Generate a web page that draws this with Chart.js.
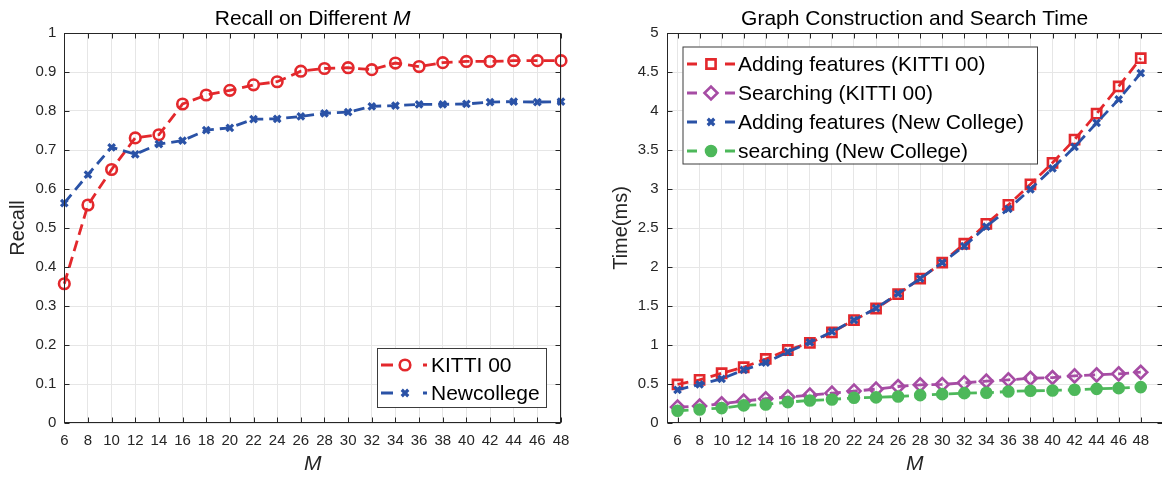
<!DOCTYPE html>
<html lang="en">
<head>
  <meta charset="UTF-8">
  <title>Recall and Time on Different M</title>
  <script src="https://cdn.jsdelivr.net/npm/chart.js"></script>
  <style>
    html, body {
      margin: 0;
      padding: 0;
      background: #fff;
      overflow: hidden;
    }
    #wrap {
      position: relative;
      width: 1162px;
      height: 479px;
      overflow: hidden;
    }
    .box {
      position: absolute;
      top: 0;
      height: 479px;
    }
    #leftBox { left: 0; width: 580px; }
    #rightBox { left: 590px; width: 590px; }
  </style>
</head>
<body>
  <div id="wrap">
    <div class="box" id="leftBox"><canvas id="recallChart" width="580" height="479"></canvas></div>
    <div class="box" id="rightBox"><canvas id="timeChart" width="590" height="479"></canvas></div>
  </div>

  <script>
    // M values (x axis, both charts)
    const mValues = [6, 8, 10, 12, 14, 16, 18, 20, 22, 24, 26, 28, 30, 32, 34, 36, 38, 40, 42, 44, 46, 48];

    // left chart: recall
    const recallKitti = [0.357, 0.559, 0.650, 0.731, 0.739, 0.818, 0.841, 0.853, 0.867, 0.875, 0.902,
                         0.909, 0.911, 0.906, 0.923, 0.914, 0.924, 0.927, 0.927, 0.929, 0.929, 0.929];
    const recallNewcollege = [0.564, 0.637, 0.707, 0.689, 0.715, 0.724, 0.751, 0.757, 0.779, 0.780, 0.786,
                              0.794, 0.797, 0.812, 0.814, 0.817, 0.817, 0.818, 0.823, 0.824, 0.823, 0.824];

    // right chart: time in ms
    const addKitti = [0.494, 0.553, 0.638, 0.715, 0.821, 0.936, 1.026, 1.162, 1.319, 1.468, 1.651,
                      1.851, 2.055, 2.298, 2.553, 2.796, 3.060, 3.336, 3.634, 3.966, 4.315, 4.677];
    const searchKitti = [0.204, 0.217, 0.247, 0.281, 0.311, 0.332, 0.357, 0.383, 0.409, 0.434, 0.468,
                         0.489, 0.494, 0.515, 0.536, 0.553, 0.574, 0.583, 0.604, 0.617, 0.630, 0.651];
    const addNewCollege = [0.426, 0.494, 0.566, 0.681, 0.774, 0.911, 1.034, 1.170, 1.319, 1.472, 1.660,
                           1.851, 2.055, 2.268, 2.519, 2.745, 2.996, 3.264, 3.540, 3.847, 4.149, 4.485];
    const searchNewCollege = [0.157, 0.174, 0.191, 0.226, 0.238, 0.268, 0.289, 0.302, 0.323, 0.328, 0.340,
                              0.357, 0.370, 0.383, 0.387, 0.404, 0.413, 0.417, 0.426, 0.438, 0.447, 0.460];

    const FONT = "'Liberation Sans', Arial, Helvetica, sans-serif";
    const INK = '#262626';
    const GRID = '#e6e6e6';
    const RED = '#e3282c';
    const BLUE = '#2a52a6';
    const PURPLE = '#a64ca4';
    const GREEN = '#4db85a';

    Chart.defaults.font.family = FONT;
    Chart.defaults.color = INK;

    function series(label, ys, color, style, radius, filled, order) {
      return {
        label: label,
        data: mValues.map((m, i) => ({ x: m, y: ys[i] })),
        borderColor: color,
        backgroundColor: color,
        borderWidth: 2.8,
        borderDash: [11, 6],
        pointStyle: style,
        pointRadius: radius,
        pointHoverRadius: radius,
        pointBorderColor: color,
        pointBackgroundColor: filled ? color : 'rgba(255,255,255,0)',
        pointBorderWidth: style === 'crossRot' ? 3.2 : 2.6,
        tension: 0,
        clip: false,
        order: order
      };
    }

    function drawMarker(ctx, ds, x, y) {
      if (Chart.helpers && Chart.helpers.drawPoint) {
        ctx.save();
        ctx.setLineDash([]);
        ctx.lineWidth = ds.pointBorderWidth;
        ctx.strokeStyle = ds.pointBorderColor;
        ctx.fillStyle = ds.pointBackgroundColor;
        Chart.helpers.drawPoint(ctx, {
          pointStyle: ds.pointStyle, radius: ds.pointRadius,
          borderWidth: ds.pointBorderWidth, rotation: 0
        }, x, y);
        ctx.restore();
      }
    }

    // box, inner ticks, title with italic parts, legend inside the axes
    const decorPlugin = {
      id: 'decor',
      afterDraw(chart, args, opts) {
        const ctx = chart.ctx;
        const a = chart.chartArea;
        const xs = chart.scales.x, ys = chart.scales.y;
        ctx.save();

        // axes box + inward ticks
        ctx.strokeStyle = INK;
        ctx.lineWidth = 1;
        const L = Math.round(a.left) + 0.5, R = Math.round(a.right) - 0.5;
        const T = Math.round(a.top) + 0.5, B = Math.round(a.bottom) - 0.5;
        ctx.strokeRect(L, T, R - L, B - T);
        ctx.beginPath();
        xs.ticks.forEach(t => {
          const px = Math.round(xs.getPixelForValue(t.value)) + 0.5;
          ctx.moveTo(px, B); ctx.lineTo(px, B - 5);
          ctx.moveTo(px, T); ctx.lineTo(px, T + 5);
        });
        ys.ticks.forEach(t => {
          const py = Math.round(ys.getPixelForValue(t.value)) + 0.5;
          ctx.moveTo(L, py); ctx.lineTo(L + 5, py);
          ctx.moveTo(R, py); ctx.lineTo(R - 5, py);
        });
        ctx.stroke();

        // title
        ctx.fillStyle = '#000';
        ctx.textBaseline = 'alphabetic';
        let total = 0;
        const widths = opts.title.map(p => {
          ctx.font = (p.italic ? 'italic ' : '') + '21px ' + FONT;
          const w = ctx.measureText(p.text).width;
          total += w;
          return w;
        });
        let tx = opts.titleCenter - total / 2;
        opts.title.forEach((p, i) => {
          ctx.font = (p.italic ? 'italic ' : '') + '21px ' + FONT;
          ctx.textAlign = 'left';
          ctx.fillText(p.text, tx, 24.5);
          tx += widths[i];
        });

        // legend
        const lg = opts.legend;
        ctx.fillStyle = '#fff';
        ctx.fillRect(lg.box[0], lg.box[1], lg.box[2] - lg.box[0], lg.box[3] - lg.box[1]);
        ctx.strokeStyle = '#3c3c3c';
        ctx.lineWidth = 1;
        ctx.strokeRect(lg.box[0] + 0.5, lg.box[1] + 0.5, lg.box[2] - lg.box[0], lg.box[3] - lg.box[1]);
        chart.data.datasets.forEach((ds, i) => {
          const ry = lg.rows[i];
          ctx.strokeStyle = ds.borderColor;
          ctx.lineWidth = ds.borderWidth;
          ctx.setLineDash([]);
          ctx.beginPath();
          lg.segs.forEach(s => { ctx.moveTo(s[0], ry); ctx.lineTo(s[1], ry); });
          ctx.stroke();
          drawMarker(ctx, ds, lg.markerX, ry);
          ctx.fillStyle = '#000';
          ctx.font = '21px ' + FONT;
          ctx.textAlign = 'left';
          ctx.textBaseline = 'middle';
          ctx.fillText(ds.label, lg.textX, ry + 1);
        });
        ctx.restore();
      }
    };

    function xAxis(min, max) {
      return {
        type: 'linear',
        min: min,
        max: max,
        afterBuildTicks: s => { s.ticks = mValues.map(v => ({ value: v })); },
        afterFit: s => { s.height = 56; },
        grid: { color: GRID, drawTicks: false },
        border: { display: false },
        ticks: { font: { size: 15 }, padding: 9, color: INK, maxRotation: 0, autoSkip: false },
        title: {
          display: true, text: 'M', color: INK,
          font: { size: 21, style: 'italic' },
          padding: { top: 0, bottom: 2 }
        }
      };
    }

    function yAxis(min, max, step, width, label, titlePad) {
      return {
        min: min,
        max: max,
        afterFit: s => { s.width = width; },
        grid: { color: GRID, drawTicks: false },
        border: { display: false },
        ticks: {
          stepSize: step, font: { size: 15 }, padding: 8, color: INK,
          callback: v => String(Number(v.toFixed(2)))
        },
        title: {
          display: true, text: label, color: INK,
          font: { size: 20 },
          padding: { top: titlePad, bottom: 0 }
        }
      };
    }

    new Chart(document.getElementById('recallChart'), {
      type: 'line',
      data: {
        datasets: [
          series('KITTI 00', recallKitti, RED, 'circle', 5.3, false, 2),
          series('Newcollege', recallNewcollege, BLUE, 'crossRot', 4.6, false, 1)
        ]
      },
      options: {
        responsive: false,
        animation: false,
        devicePixelRatio: 1,
        layout: { padding: { top: 33, right: 19, bottom: 0, left: 0 } },
        scales: {
          x: xAxis(6, 48),
          y: yAxis(0, 1, 0.1, 64.3, 'Recall', 6)
        },
        plugins: {
          legend: { display: false },
          tooltip: { enabled: false },
          decor: {
            titleCenter: 312.6,
            title: [{ text: 'Recall on Different ', italic: false }, { text: 'M', italic: true }],
            legend: {
              box: [377, 348, 546, 407],
              rows: [365, 393],
              segs: [[381, 393], [423, 427]],
              markerX: 405,
              textX: 431
            }
          }
        }
      },
      plugins: [decorPlugin]
    });

    new Chart(document.getElementById('timeChart'), {
      type: 'line',
      data: {
        datasets: [
          series('Adding features (KITTI 00)', addKitti, RED, 'rect', 6.5, false, 4),
          series('Searching (KITTI 00)', searchKitti, PURPLE, 'rectRot', 6.5, false, 3),
          series('Adding features (New College)', addNewCollege, BLUE, 'crossRot', 4.6, false, 2),
          series('searching (New College)', searchNewCollege, GREEN, 'circle', 5, true, 1)
        ]
      },
      options: {
        responsive: false,
        animation: false,
        devicePixelRatio: 1,
        layout: { padding: { top: 33, right: 17.2, bottom: 0, left: 0 } },
        scales: {
          x: xAxis(5, 50),
          y: yAxis(0, 5, 0.5, 76.5, 'Time(ms)', 19)
        },
        plugins: {
          legend: { display: false },
          tooltip: { enabled: false },
          decor: {
            titleCenter: 324.6,
            title: [{ text: 'Graph Construction and Search Time', italic: false }],
            legend: {
              box: [92.5, 46.5, 447, 163.5],
              rows: [64, 93, 122, 151],
              segs: [[97, 107], [135, 145]],
              markerX: 121,
              textX: 148
            }
          }
        }
      },
      plugins: [decorPlugin]
    });
  </script>
</body>
</html>
